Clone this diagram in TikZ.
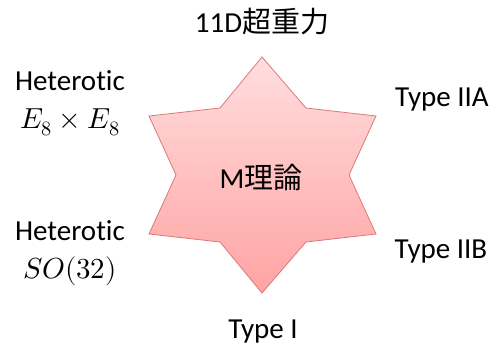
\documentclass[tikz,border=0pt]{standalone}
\usepackage{amssymb,amsmath}
\usepackage{unicode-math}
\setmainfont{Carlito}[Ligatures=NoCommon]
\setmathfont{Latin Modern Math}
\newfontfamily\cjk{Noto Sans CJK JP}
\usepackage{tikz}

\definecolor{startop}{RGB}{255,222,222}
\definecolor{starbot}{RGB}{255,163,163}
\definecolor{starline}{RGB}{222,120,120}

\tikzset{
  theory/.style={align=center,font=\fontsize{29}{38}\selectfont,inner sep=0pt}
}

\begin{document}
\begin{tikzpicture}[x=1pt,y=-1pt]
\useasboundingbox (0,0) rectangle (491,349);
% the star
\draw[starline,thick,top color=startop,bottom color=starbot]
  (262,57) -- (306,108) -- (376,116) -- (349,175) -- (376,234) -- (306,242)
  -- (262,293) -- (220,242) -- (149,234) -- (176,175) -- (149,116) -- (220,108) -- cycle;
\node[theory] (mth) at (261,177) {M\cjk 理論};
\node[theory] (sugra) at (262,22) {11D\cjk 超重力};
\node[theory] (hetE) at (70,103) {Heterotic\\ $E_8\times E_8$};
\node[theory] (hetSO) at (70,253) {Heterotic\\ $SO(32)$};
\node[theory] (iia) at (442,100) {Type IIA};
\node[theory] (iib) at (441,252) {Type IIB};
\node[theory] (ti) at (263,332) {Type I};
\end{tikzpicture}
\end{document}
